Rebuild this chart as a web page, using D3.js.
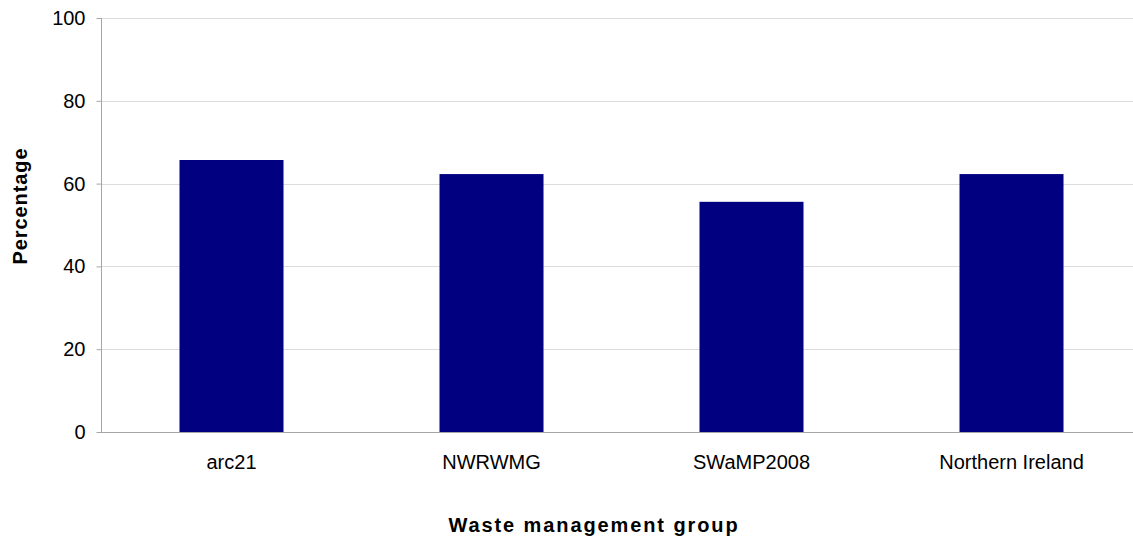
<!DOCTYPE html>
<html><head><meta charset="utf-8">
<script src="https://cdn.jsdelivr.net/npm/d3@7"></script>
<style>body{margin:0;background:#fff}svg{display:block;font-family:Arial,"Liberation Sans",sans-serif}</style>
</head><body>
<script>
const categories = ["arc21", "NWRWMG", "SWaMP2008", "Northern Ireland"];
const values = [65.7, 62.3, 55.6, 62.3];
const yTicks = [0, 20, 40, 60, 80, 100];

const W = 1133, H = 540;
const svg = d3.select("body").append("svg").attr("width", W).attr("height", H);
const x = d3.scaleBand().domain(categories).range([101.5, 1141.5]).paddingInner(0.6).paddingOuter(0.3);
const y = d3.scaleLinear().domain([0, 100]).range([432, 18]);

// gridlines
svg.append("g").selectAll("line").data(yTicks.filter(d => d > 0)).join("line")
  .attr("x1", 101).attr("x2", 1141.5)
  .attr("y1", d => Math.round(y(d)) + 0.5).attr("y2", d => Math.round(y(d)) + 0.5)
  .attr("stroke", "#dcdcdc").attr("stroke-width", 1);

// bars
svg.append("g").selectAll("rect").data(values).join("rect")
  .attr("x", (d, i) => x(categories[i]))
  .attr("width", x.bandwidth())
  .attr("y", d => y(d)).attr("height", d => y(0) - y(d))
  .attr("fill", "#000080");

// y axis
const ya = svg.append("g").attr("transform", "translate(101.5,0)")
  .call(d3.axisLeft(y).tickValues(yTicks).tickSize(5).tickPadding(11));
ya.select(".domain").attr("stroke", "#a6a6a6").attr("d", "M0,18V432.5");
ya.selectAll(".tick line").attr("stroke", "#a6a6a6");
ya.selectAll("text").attr("font-size", 20).attr("fill", "#000").attr("font-family", "Arial,'Liberation Sans',sans-serif");

// x axis
const xa = svg.append("g").attr("transform", "translate(0,432.5)")
  .call(d3.axisBottom(x).tickSize(0).tickPadding(22));
xa.select(".domain").attr("stroke", "#a6a6a6").attr("d", "M101,0H1141.5");
xa.selectAll("text").attr("font-size", 20).attr("fill", "#000").attr("font-family", "Arial,'Liberation Sans',sans-serif");

// titles
svg.append("text").attr("x", 594).attr("y", 531.5).attr("text-anchor", "middle")
  .attr("font-size", 20).attr("font-weight", "bold").attr("letter-spacing", 1.9).text("Waste management group");
svg.append("text").attr("transform", "translate(26.5,206) rotate(-90)").attr("text-anchor", "middle")
  .attr("font-size", 20).attr("font-weight", "bold").attr("letter-spacing", 0.9).text("Percentage");
</script>
</body></html>
